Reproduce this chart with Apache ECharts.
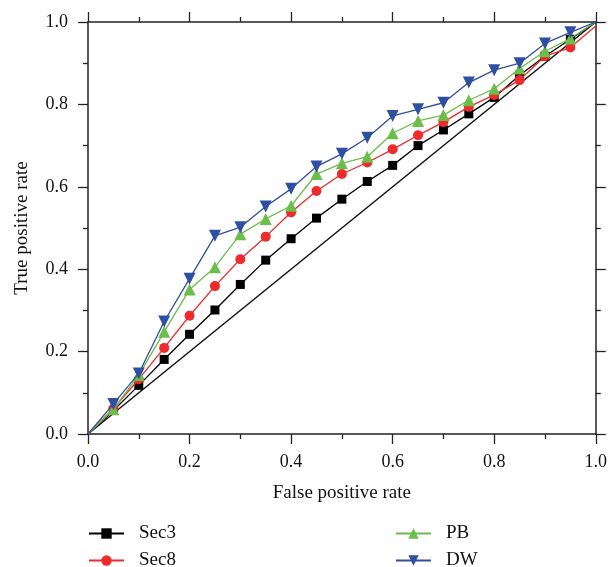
<!DOCTYPE html>
<html>
<head>
<meta charset="utf-8">
<script src="https://cdn.jsdelivr.net/npm/echarts@6/dist/echarts.min.js"></script>
<style>html,body{margin:0;padding:0;background:#fff}#c{width:610px;height:567px}</style>
</head>
<body>
<div id="c"></div>
<script>
const fpr = [0, 0.05, 0.1, 0.15, 0.2, 0.25, 0.3, 0.35, 0.4, 0.45, 0.5, 0.55, 0.6, 0.65, 0.7, 0.75, 0.8, 0.85, 0.9, 0.95, 1.0];
const sec3 = [0, 0.057, 0.118, 0.181, 0.242, 0.301, 0.363, 0.422, 0.474, 0.524, 0.570, 0.613, 0.652, 0.700, 0.738, 0.777, 0.817, 0.871, 0.917, 0.958, 1.0];
const sec8 = [0, 0.062, 0.133, 0.209, 0.287, 0.359, 0.424, 0.479, 0.538, 0.590, 0.631, 0.659, 0.691, 0.725, 0.757, 0.794, 0.823, 0.859, 0.917, 0.938, 0.99];
const pb   = [0, 0.060, 0.143, 0.248, 0.351, 0.405, 0.485, 0.522, 0.554, 0.631, 0.657, 0.673, 0.730, 0.760, 0.774, 0.810, 0.838, 0.887, 0.929, 0.960, 1.0];
const dw   = [0, 0.073, 0.147, 0.273, 0.377, 0.481, 0.502, 0.552, 0.595, 0.649, 0.680, 0.719, 0.772, 0.788, 0.804, 0.853, 0.883, 0.900, 0.948, 0.975, 1.0];
const diagX = [0, 1];
const diagY = [0, 1];
const xTicks = ['0.0','0.2','0.4','0.6','0.8','1.0'];

// end points (0,0) and (1,1) are drawn without markers
const pair = (xs, ys) => xs.map((x, i) => {
  const d = { value: [x, ys[i]] };
  if (i === 0 || i === xs.length - 1) d.symbol = 'none';
  return d;
});
const font = '"Liberation Serif", "DejaVu Serif", serif';

const axisCommon = {
  type: 'value', min: 0, max: 1, interval: 0.2,
  axisLine: { show: true, onZero: false, lineStyle: { color: '#222', width: 1.5 } },
  axisTick: { show: true, inside: false, length: 10, lineStyle: { color: '#222', width: 1.3 } },
  minorTick: { show: true, splitNumber: 2, length: 5, lineStyle: { color: '#222', width: 1.3 } },
  splitLine: { show: false },
  minorSplitLine: { show: false }
};

const legendText = { fontFamily: font, fontSize: 19, color: '#111', padding: [0, 0, 0, 10] };
const mkLegend = (name, left, top) => ({
  left: left, top: top, padding: 0, itemWidth: 35, itemHeight: 13, data: [name], textStyle: legendText
});

const chart = echarts.init(document.getElementById('c'), null, { renderer: 'canvas' });
chart.setOption({
  backgroundColor: '#fff',
  animation: false,
  textStyle: { fontFamily: font },
  grid: { left: 88, right: 14, top: 22, bottom: 133, containLabel: false },
  xAxis: [
    Object.assign({}, axisCommon, {
      position: 'bottom',
      name: 'False positive rate', nameLocation: 'middle', nameGap: 50,
      nameTextStyle: { fontFamily: font, fontSize: 19, color: '#111' },
      axisLabel: { fontFamily: font, fontSize: 18, color: '#111', margin: 19,
        formatter: v => xTicks[Math.round(v / 0.2)] }
    }),
    Object.assign({}, axisCommon, { position: 'top', axisLabel: { show: false } })
  ],
  yAxis: [
    Object.assign({}, axisCommon, {
      position: 'left',
      name: 'True positive rate', nameLocation: 'middle', nameGap: 56,
      nameTextStyle: { fontFamily: font, fontSize: 19, color: '#111' },
      axisLabel: { fontFamily: font, fontSize: 18, color: '#111', margin: 20,
        formatter: v => v.toFixed(1) }
    }),
    Object.assign({}, axisCommon, { position: 'right', axisLabel: { show: false } })
  ],
  legend: [
    mkLegend('Sec3', 88, 524),
    mkLegend('Sec8', 88, 551),
    mkLegend('PB', 395, 524),
    mkLegend('DW', 395, 551)
  ],
  series: [
    { name: 'diag', type: 'line', data: diagX.map((x, i) => [x, diagY[i]]), showSymbol: false, symbol: 'none',
      lineStyle: { color: '#111', width: 1.5 }, z: 1 },
    { name: 'Sec3', type: 'line', data: pair(fpr, sec3), symbol: 'rect', symbolSize: 9,
      itemStyle: { color: '#000' }, lineStyle: { color: '#000', width: 1.3 }, z: 2 },
    { name: 'Sec8', type: 'line', data: pair(fpr, sec8), symbol: 'circle', symbolSize: 10,
      itemStyle: { color: '#ee2a2a' }, lineStyle: { color: '#ee2a2a', width: 1.3 }, z: 3 },
    { name: 'PB', type: 'line', data: pair(fpr, pb), symbol: 'triangle', symbolSize: 12,
      itemStyle: { color: '#6cbd4a' }, lineStyle: { color: '#6cbd4a', width: 1.3 }, z: 4 },
    { name: 'DW', type: 'line', data: pair(fpr, dw), symbol: 'triangle', symbolRotate: 180, symbolSize: 12,
      itemStyle: { color: '#2f4fa2' }, lineStyle: { color: '#2f4fa2', width: 1.3 }, z: 5 }
  ]
});
</script>
</body>
</html>
